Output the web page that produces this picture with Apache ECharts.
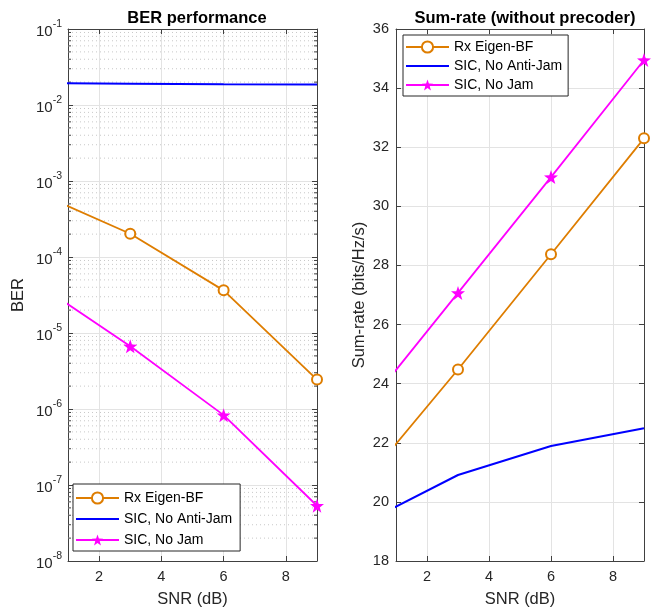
<!DOCTYPE html>
<html>
<head>
<meta charset="utf-8">
<script src="https://cdn.jsdelivr.net/npm/echarts@6/dist/echarts.min.js"></script>
<style>
  html, body { margin: 0; padding: 0; background: #fff; }
  #chart { width: 661px; height: 609px; }
</style>
</head>
<body>
<div id="chart"></div>
<script>
// 数据
const snr = [0, 3, 6, 9];
const seriesNames = ['Rx Eigen-BF', 'SIC, No Anti-Jam', 'SIC, No Jam'];
const berEigen = [7.1e-4, 2.02e-4, 3.64e-5, 2.44e-6];
const berNoAntiJam = [0.0194, 0.0190, 0.0187, 0.0186];
const berNoJam = [4.5e-5, 6.68e-6, 8.3e-7, 5.33e-8];
const rateEigen = [20.7, 24.48, 28.38, 32.3];
const rateNoAntiJam = [19.3, 20.91, 21.89, 22.49];
const rateNoJam = [23.16, 27.07, 30.99, 34.95];
const berDecades = [-8, -7, -6, -5, -4, -3, -2];
const minorSteps = [2, 3, 4, 5, 6, 7, 8, 9];

const xMin = 1, xMax = 9;
const font = 'Liberation Sans, Arial, Helvetica, sans-serif';
const axisColor = '#404040';
const textColor = '#262626';
const gridColor = '#e3e3e3';
const orange = '#DE7D00';
const starPath = 'path://M0,-10L2.35,-3.24L9.51,-3.09L3.8,1.24L5.88,8.09L0,4L-5.88,8.09L-3.8,1.24L-9.51,-3.09L-2.35,-3.24Z';
// 图例里只显示一条线 (没有标记)
const flatPath = 'path://M0,0L0,0M0,4.6L10,4.6L10,5.4L0,5.4ZM10,10L10,10';

const myChart = echarts.init(document.getElementById('chart'));

// 对数轴的次刻度值
const minorValues = [];
berDecades.forEach((e) => {
    minorSteps.forEach((k) => {
        minorValues.push([xMin, k * Math.pow(10, e)]);
    });
});

function zip(xs, ys) {
    return xs.map((x, i) => [x, ys[i]]);
}

// 画次网格线和次刻度
function renderMinor(params, api) {
    const v = api.value(1);
    const a = api.coord([xMin, v]);
    const b = api.coord([xMax, v]);
    return {
        type: 'group',
        children: [
            {
                type: 'line',
                shape: { x1: a[0], y1: a[1], x2: b[0], y2: b[1] },
                style: { stroke: '#c8c8c8', lineWidth: 1, lineDash: [1, 3] },
            },
            {
                type: 'line',
                shape: { x1: a[0], y1: a[1], x2: a[0] + 3, y2: a[1] },
                style: { stroke: axisColor, lineWidth: 1 },
            },
            {
                type: 'line',
                shape: { x1: b[0] - 3, y1: b[1], x2: b[0], y2: b[1] },
                style: { stroke: axisColor, lineWidth: 1 },
            },
        ],
    };
}

const nameStyle = { color: textColor, fontSize: 16.5, fontFamily: font };

const baseX = {
    type: 'value',
    min: xMin,
    max: xMax,
    splitNumber: 4,
    axisLine: { show: true, onZero: false, lineStyle: { color: axisColor, width: 1 } },
    axisTick: { show: true, inside: true, length: 5, lineStyle: { color: axisColor } },
    axisLabel: { show: true, showMinLabel: false, showMaxLabel: false, color: textColor, fontSize: 14.5, fontFamily: font, margin: 8 },
    splitLine: { show: true, lineStyle: { color: gridColor, width: 1 } },
};

function topX(grid) {
    return Object.assign({}, baseX, {
        gridIndex: grid,
        position: 'top',
        axisLabel: { show: false },
        splitLine: { show: false },
    });
}

function bottomX(grid) {
    return Object.assign({}, baseX, {
        gridIndex: grid,
        position: 'bottom',
        name: 'SNR (dB)',
        nameLocation: 'middle',
        nameGap: 30,
        nameTextStyle: nameStyle,
    });
}

const logY = {
    type: 'log',
    logBase: 10,
    min: 1e-8,
    max: 1e-1,
    interval: 1,
    axisLine: { show: true, onZero: false, lineStyle: { color: axisColor, width: 1 } },
    axisTick: { show: true, inside: true, length: 5, lineStyle: { color: axisColor } },
    splitLine: { show: true, lineStyle: { color: gridColor, width: 1 } },
};

const linY = {
    type: 'value',
    min: 18,
    max: 36,
    interval: 2,
    axisLine: { show: true, onZero: false, lineStyle: { color: axisColor, width: 1 } },
    axisTick: { show: true, inside: true, length: 5, lineStyle: { color: axisColor } },
    splitLine: { show: true, lineStyle: { color: gridColor, width: 1 } },
};

const legendBase = {
    data: seriesNames,
    orient: 'vertical',
    itemWidth: 43,
    itemHeight: 14,
    backgroundColor: '#fff',
    borderColor: '#262626',
    borderWidth: 1,
    textStyle: { fontSize: 14, color: '#000', fontFamily: font },
};

const option = {
    backgroundColor: '#fff',
    animation: false,
    textStyle: { fontFamily: font },
    title: [
        {
            text: 'BER performance',
            left: 192,
            top: 5,
            textAlign: 'center',
            textStyle: { fontSize: 16.5, fontWeight: 'bold', color: '#000', fontFamily: font },
        },
        {
            text: 'Sum-rate (without precoder)',
            left: 520,
            top: 5,
            textAlign: 'center',
            textStyle: { fontSize: 16.5, fontWeight: 'bold', color: '#000', fontFamily: font },
        },
    ],
    grid: [
        { left: 68, top: 29, width: 249, height: 532, outerBoundsMode: 'none' },
        { left: 396, top: 29, width: 248, height: 532, outerBoundsMode: 'none' },
    ],
    legend: [
        Object.assign({}, legendBase, {
            left: 73,
            top: 484,
            itemGap: 7,
            padding: [7, 8, 4, 2],
        }),
        Object.assign({}, legendBase, {
            left: 403,
            top: 35,
            itemGap: 5,
            padding: [5, 6, 4, 2],
        }),
    ],
    xAxis: [bottomX(0), topX(0), bottomX(1), topX(1)],
    yAxis: [
        Object.assign({}, logY, {
            gridIndex: 0,
            position: 'left',
            name: 'BER',
            nameLocation: 'middle',
            nameGap: 41,
            nameTextStyle: nameStyle,
            axisLabel: {
                color: textColor,
                fontFamily: font,
                margin: 6,
                formatter: (v) => '{b|10}{s|' + Math.round(Math.log10(v)) + '}',
                rich: {
                    b: { fontSize: 15, color: textColor, fontFamily: font, verticalAlign: 'bottom', lineHeight: 20 },
                    s: { fontSize: 10.5, color: textColor, fontFamily: font, verticalAlign: 'top', lineHeight: 20 },
                },
            },
        }),
        Object.assign({}, logY, {
            gridIndex: 0,
            position: 'right',
            axisLabel: { show: false },
            splitLine: { show: false },
        }),
        Object.assign({}, linY, {
            gridIndex: 1,
            position: 'left',
            name: 'Sum-rate (bits/Hz/s)',
            nameLocation: 'middle',
            nameGap: 28,
            nameTextStyle: nameStyle,
            axisLabel: { color: textColor, fontSize: 14.5, fontFamily: font, margin: 7 },
        }),
        Object.assign({}, linY, {
            gridIndex: 1,
            position: 'right',
            axisLabel: { show: false },
            splitLine: { show: false },
        }),
    ],
    series: [
        {
            type: 'custom',
            xAxisIndex: 0,
            yAxisIndex: 0,
            silent: true,
            z: 1,
            renderItem: renderMinor,
            data: minorValues,
        },
        {
            name: seriesNames[0],
            type: 'line',
            xAxisIndex: 0,
            yAxisIndex: 0,
            data: zip(snr, berEigen),
            symbol: 'emptyCircle',
            symbolSize: 10,
            lineStyle: { color: orange, width: 1.8 },
            itemStyle: { color: orange, borderWidth: 2 },
            z: 5,
        },
        {
            name: seriesNames[1],
            type: 'line',
            xAxisIndex: 0,
            yAxisIndex: 0,
            data: zip(snr, berNoAntiJam),
            symbol: flatPath,
            showSymbol: false,
            lineStyle: { color: '#0000ff', width: 2 },
            itemStyle: { color: '#0000ff' },
            z: 5,
        },
        {
            name: seriesNames[2],
            type: 'line',
            xAxisIndex: 0,
            yAxisIndex: 0,
            data: zip(snr, berNoJam),
            symbol: starPath,
            symbolSize: 14,
            lineStyle: { color: '#ff00ff', width: 1.8 },
            itemStyle: { color: '#ff00ff' },
            z: 5,
        },
        {
            name: seriesNames[0],
            type: 'line',
            xAxisIndex: 2,
            yAxisIndex: 2,
            data: zip(snr, rateEigen),
            symbol: 'emptyCircle',
            symbolSize: 10,
            lineStyle: { color: orange, width: 1.8 },
            itemStyle: { color: orange, borderWidth: 2 },
            z: 5,
        },
        {
            name: seriesNames[1],
            type: 'line',
            xAxisIndex: 2,
            yAxisIndex: 2,
            data: zip(snr, rateNoAntiJam),
            symbol: flatPath,
            showSymbol: false,
            lineStyle: { color: '#0000ff', width: 2 },
            itemStyle: { color: '#0000ff' },
            z: 5,
        },
        {
            name: seriesNames[2],
            type: 'line',
            xAxisIndex: 2,
            yAxisIndex: 2,
            data: zip(snr, rateNoJam),
            symbol: starPath,
            symbolSize: 14,
            lineStyle: { color: '#ff00ff', width: 1.8 },
            itemStyle: { color: '#ff00ff' },
            z: 5,
        },
    ],
};

myChart.setOption(option);
</script>
</body>
</html>
